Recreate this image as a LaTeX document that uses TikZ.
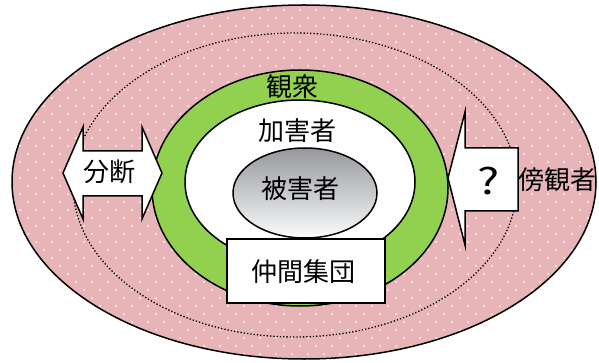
\documentclass[tikz,border=0pt]{standalone}
\usepackage{fontspec}
\newfontfamily\jp{Noto Sans CJK JP}
\definecolor{pinkbg}{RGB}{231,180,184}
\definecolor{ringgreen}{RGB}{146,208,80}
\definecolor{graytop}{RGB}{150,152,156}
\definecolor{graybot}{RGB}{250,251,252}
\tikzset{
  edge/.style={draw=black,line width=1.5pt},
  lbl/.style={font=\jp\fontsize{26}{30}\selectfont,inner sep=0pt,text=black},
  arrowshape/.style={edge,fill=white,line join=miter},
}
\begin{document}
\begin{tikzpicture}[x=1pt,y=-1pt]
\useasboundingbox (0,0) rectangle (599,363);
% outer pink ellipse with dots
\fill[pinkbg] (304,182) ellipse [x radius=292,y radius=177];
\begin{scope}
  \clip (304,182) ellipse [x radius=292,y radius=177];
  \foreach \r in {0,...,46}{
    \pgfmathsetmacro{\yy}{2+8*\r}
    \pgfmathsetmacro{\off}{mod(\r,2)*8}
    \foreach \c in {0,...,38}{
      \fill[white,opacity=0.8] ({4+\off+16*\c},\yy) circle (1.1pt);
    }
  }
\end{scope}
\draw[edge] (304,182) ellipse [x radius=292,y radius=177];
% dotted ellipse
\draw[black,line width=1.3pt,dotted] (295,185) ellipse [x radius=222,y radius=152];
% green ring
\filldraw[edge,fill=ringgreen] (300,188) ellipse [x radius=148,y radius=118];
\filldraw[edge,fill=white] (300,182) ellipse [x radius=115,y radius=82];
% victim ellipse
\shade[top color=graytop,bottom color=graybot] (305,193) ellipse [x radius=72,y radius=45];
\draw[edge] (305,193) ellipse [x radius=72,y radius=45];
% peer group box
\filldraw[edge,fill=white] (227,239) rectangle (385,303);
% left double arrow
\draw[arrowshape] (63,173) -- (83,127) -- (83,151) -- (142,151) -- (142,127) -- (162,173)
  -- (142,219) -- (142,196) -- (83,196) -- (83,219) -- cycle;
% right arrow
\draw[arrowshape] (448,178) -- (465,112) -- (465,148) -- (518,148) -- (518,211) -- (465,211) -- (465,245) -- cycle;
% labels
\node[lbl] (kansyu) at (292,87) {観衆};
\node[lbl] (kagai) at (297,131) {加害者};
\node[lbl] (higai) at (300,189) {被害者};
\node[lbl] (nakama) at (303,272) {仲間集団};
\node[lbl] (bundan) at (109,172) {分断};
\node[lbl,font=\jp\fontsize{36}{40}\selectfont,xscale=1.3] (q) at (489,181) {?};
\node[lbl] (boukan) at (557,180) {傍観者};
\end{tikzpicture}
\end{document}
